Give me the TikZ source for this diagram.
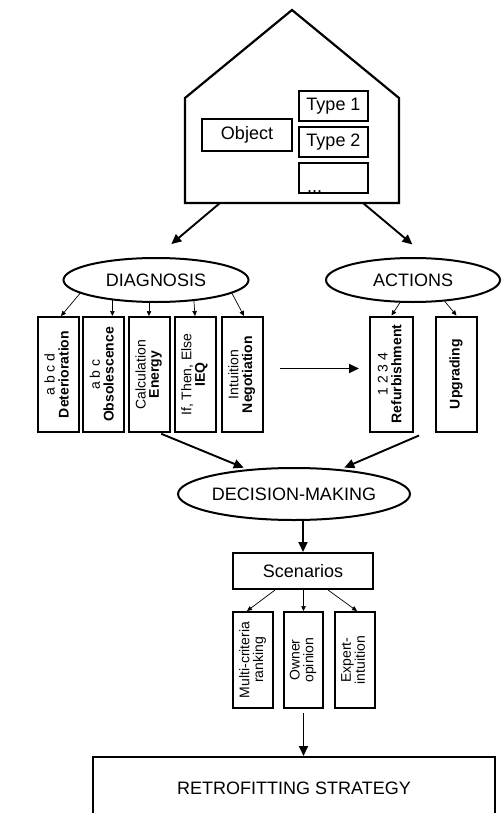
\documentclass[tikz,border=0pt]{standalone}
\usepackage{fontspec}
\setmainfont{Liberation Sans}
\usetikzlibrary{arrows.meta,shapes.geometric,calc}
\newcommand{\vlab}[1]{\rotatebox{90}{\begin{tabular}{@{}c@{}}#1\end{tabular}}}

\begin{document}
\begin{tikzpicture}[
    x=1pt, y=-1pt,
    every node/.style={font=\fontsize{18}{20}\selectfont, inner sep=0pt},
    box/.style={draw, line width=2pt},
    vbox/.style={box, minimum width=41pt, minimum height=115pt, font=\fontsize{14}{12.5}\selectfont},
    sbox/.style={vbox, minimum height=96pt},
    oval/.style={ellipse, draw, line width=2pt},
    flow/.style={-{Triangle[length=10pt, width=9pt]}, line width=1.9pt},
    tick/.style={-{Triangle[length=5pt, width=4.5pt]}, line width=0.7pt},
]
% canvas
\path[use as bounding box, fill=white] (0,0) rectangle (502,813);
\clip (0,0) rectangle (502,813);

% === HOUSE ===
\draw[line width=2.2pt] (185,203) -- (185,98) -- (292,10) -- (399,98) -- (399,203) -- cycle;
\node[box, minimum width=90pt, minimum height=32pt] (obj) at (247,135) {Object};
\node[box, minimum width=69pt, minimum height=30pt] (ty1) at (333.5,106) {Type 1};
\node[box, minimum width=69pt, minimum height=30pt] (ty2) at (333.5,142) {Type 2};
\node[box, minimum width=69pt, minimum height=30pt,
      label={[anchor=south west, xshift=9pt, yshift=1pt]south west:...}] (ty3) at (333.5,178) {};
\coordinate (hl) at (220,203);
\coordinate (hr) at (363,203);

% === DIAGNOSIS / ACTIONS ===
\node[oval, minimum width=185pt, minimum height=44pt] (diag) at (156,280) {DIAGNOSIS};
\node[oval, minimum width=174pt, minimum height=44pt] (act) at (413,280) {ACTIONS};

\draw[flow, shorten >=20pt] (hl) -- (diag.north);
\draw[flow, shorten >=20pt] (hr) -- (act.57);

% diagnosis tools
\node[vbox] (det) at (58.5,374.5) {\vlab{a b c d\\\textbf{Deterioration}}};
\node[vbox] (obs) at (103.5,374.5) {\vlab{a b c\\\textbf{Obsolescence}}};
\node[vbox] (en) at (149,374.5) {\vlab{Calculation\\\textbf{Energy}}};
\node[vbox] (ieq) at (195,374.5) {\vlab{If, Then, Else\\\textbf{IEQ}}};
\node[vbox] (neg) at (242,374.5) {\vlab{Intuition\\\textbf{Negotiation}}};

\draw[tick] (diag.-170) -- ([xshift=2.5pt]det.north);
\draw[tick] (diag.-155.6) -- (diag.-155.6 |- obs.north);
\draw[tick] (diag.south -| en.north) -- (en.north);
\draw[tick] (diag.-29.4) -- (ieq.north);
\draw[tick] (diag.-10) -- ([xshift=2pt]neg.north);

% actions
\node[vbox, minimum width=43pt] (ref) at (391.5,374) {\vlab{1 2 3 4\\\textbf{Refurbishment}}};
\node[vbox] (upg) at (456.5,374) {\vlab{\textbf{Upgrading}}};

\draw[tick] (act.-120.8) -- (ref.north);
\draw[tick] (act.-34.5) -- (upg.north);

\draw[flow, shorten <=16pt, shorten >=10pt] ([yshift=6pt]neg.east) -- ([yshift=6pt]neg.east -| ref.west);

% === DECISION-MAKING ===
\node[oval, minimum width=198pt, minimum height=52pt] (dm) at (294,494) {DECISION-MAKING};

\draw[flow, shorten <=2pt, shorten >=4pt] (en.-80) -- (dm.152);
\draw[flow, shorten >=4pt] ([xshift=5pt, yshift=-3pt]ref.south east) -- (dm.28);

\node[box, minimum width=140pt, minimum height=36pt] (scen) at (303,571) {Scenarios};
\draw[flow] (scen.north |- dm.south) -- (scen.north);

% scenario criteria
\node[sbox, minimum width=40pt] (mcr) at (253,660) {\vlab{Multi-criteria\\ranking}};
\node[sbox, minimum width=39pt] (own) at (303.5,660) {\vlab{Owner\\opinion}};
\node[sbox, minimum width=40pt] (exp) at (355,660) {\vlab{Expert-\\intuition}};

\draw[tick] ([xshift=-28pt]scen.south) -- ([xshift=-6pt]mcr.north);
\draw[tick] (own.north |- scen.south) -- (own.north);
\draw[tick] ([xshift=25pt]scen.south) -- ([xshift=2pt]exp.north);

% === RESULT ===
\node[box, minimum width=402pt, minimum height=62pt] (ret) at (294,788) {RETROFITTING STRATEGY};
\draw[flow, shorten <=4pt] (own.south) -- (own.south |- ret.north);

\end{tikzpicture}
\end{document}
